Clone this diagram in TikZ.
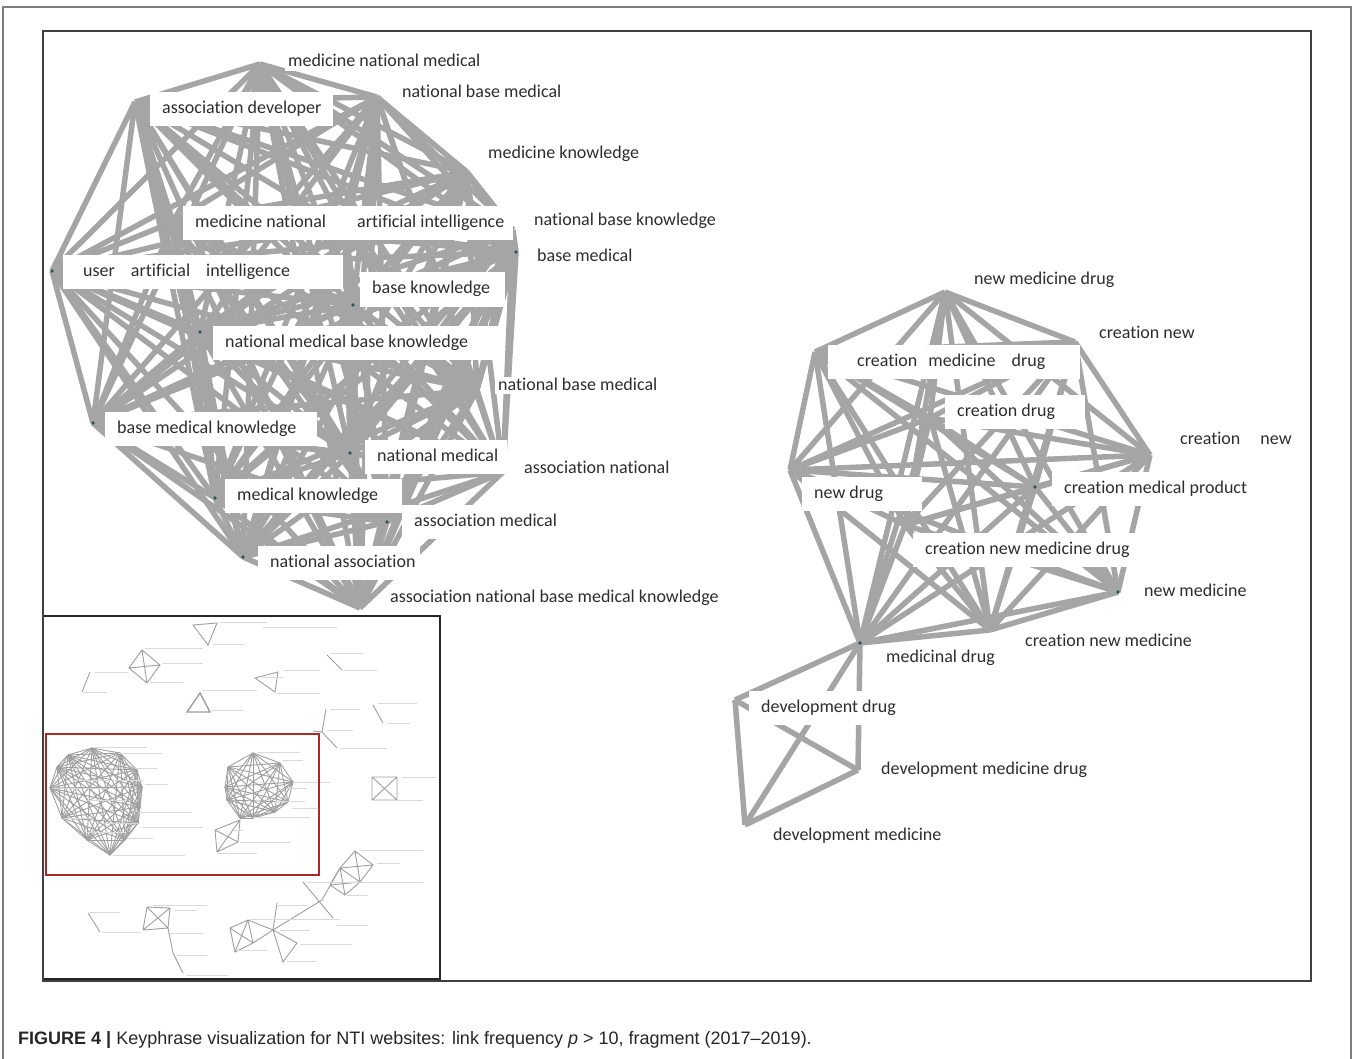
\documentclass[tikz,border=0pt]{standalone}
\usepackage{fontspec}
\setmainfont{Carlito}[Ligatures=NoCommon]
\newfontfamily\capfont{Liberation Sans}[Ligatures=TeX]
\definecolor{edgegray}{RGB}{165,165,165}
\definecolor{labelink}{RGB}{45,45,45}
\definecolor{framegray}{RGB}{125,125,125}
\definecolor{hubdot}{RGB}{40,90,85}
\definecolor{insetred}{RGB}{170,40,40}
\newcommand{\padtag}[2]{\makebox[#1pt][l]{#2}}
\begin{document}
\begin{tikzpicture}[x=1pt,y=-1pt,
  edge/.style={edgegray,line width=5.5pt},
  tag/.style={anchor=west,fill=white,text=labelink,font=\fontsize{18}{20}\selectfont,inner xsep=3pt,inner ysep=0pt,text height=13pt,text depth=4pt,yshift=-1.5pt},
  tagbox/.style={tag,inner xsep=12pt,minimum height=34pt},
  mini/.style={gray!75,line width=0.9pt},
  minitext/.style={gray!30,line width=1pt}]
\useasboundingbox (0,0) rectangle (1357,1059);
\begin{scope}
  \coordinate (mnm) at (260,64);\coordinate (nbm) at (377,97);\coordinate (ad) at (135,102);\coordinate (mk) at (467,172);
  \coordinate (mn) at (173,222);\coordinate (ai) at (345,228);\coordinate (nbk) at (513,230);\coordinate (uai) at (52,271);
  \coordinate (bm) at (516,252);\coordinate (bk) at (353,305);\coordinate (nmbk) at (200,332);\coordinate (nbm2) at (477,390);
  \coordinate (bmk) at (93,423);\coordinate (nm) at (350,453);\coordinate (an) at (503,472);\coordinate (mkn) at (215,498);
  \coordinate (am) at (387,522);\coordinate (na) at (243,557);\coordinate (anbmk) at (360,608);
  \coordinate (nmd) at (945,292);\coordinate (cnw) at (1075,342);\coordinate (cmdr) at (815,352);\coordinate (cdr) at (930,418);
  \coordinate (cnw2) at (1150,455);\coordinate (ndr) at (790,470);\coordinate (cmp) at (1035,487);\coordinate (cnmd) at (905,525);
  \coordinate (nmed) at (1118,592);\coordinate (cnmed) at (990,630);\coordinate (mdr) at (860,643);
  \coordinate (ddr) at (735,700);\coordinate (dmdr) at (858,770);\coordinate (dmed) at (745,825);
\end{scope}
\def\leftnet{mnm,nbm,ad,mk,mn,ai,nbk,uai,bm,bk,nmbk,nbm2,bmk,nm,an,mkn,am,na,anbmk}
\def\rightnet{nmd,cnw,cmdr,cdr,cnw2,ndr,cmp,cnmd,nmed,cnmed,mdr}
\def\devnet{mdr,ddr,dmdr,dmed}
\begin{scope}
  \foreach \a [count=\i] in \leftnet {\foreach \b [count=\j] in \leftnet {\ifnum\j>\i \draw[edge] (\a) -- (\b);\fi}}
  \foreach \a [count=\i] in \rightnet {\foreach \b [count=\j] in \rightnet {\ifnum\j>\i \draw[edge] (\a) -- (\b);\fi}}
  \foreach \a [count=\i] in \devnet {\foreach \b [count=\j] in \devnet {\ifnum\j>\i \draw[edge] (\a) -- (\b);\fi}}
  \foreach \n in {bm,bk,nmbk,bmk,nm,mkn,am,na,mdr,nmed,cmp,uai} \fill[hubdot] (\n) circle (1.8);
\end{scope}
\begin{scope}
  \node[tag] (l-mnm) at (285,61) {medicine national medical};
  \node[tag] (l-nbm) at (399,92) {national base medical};
  \node[tagbox] (l-ad) at (150,108) {\padtag{159}{association developer}};
  \node[tag] (l-mk) at (485,153) {medicine knowledge};
  \node[tagbox] (l-mn) at (183,222) {\padtag{138}{medicine national}};
  \node[tagbox] (l-ai) at (345,222) {\padtag{144}{artificial intelligence}};
  \node[tag] (l-nbk) at (531,220) {national base knowledge};
  \node[tag] (l-bm) at (534,256) {base medical};
  \node[tagbox] (l-uai) at (63,271) {\padtag{256}{\hspace*{8pt}user\hspace{12pt} artificial\hspace{12pt} intelligence}};
  \node[tagbox] (l-bk) at (360,288) {\padtag{121}{base knowledge}};
  \node[tagbox] (l-nmbk) at (213,341) {\padtag{263}{national medical base knowledge}};
  \node[tag] (l-nbm2) at (495,384) {national base medical};
  \node[tagbox] (l-bmk) at (105,427) {\padtag{188}{base medical knowledge}};
  \node[tagbox] (l-nm) at (365,455) {\padtag{118}{national medical}};
  \node[tag] (l-an) at (521,467) {association national};
  \node[tagbox] (l-mkn) at (225,494) {\padtag{153}{medical knowledge}};
  \node[tagbox] (l-am) at (402,520) {\padtag{139}{association medical}};
  \node[tagbox] (l-na) at (258,561) {\padtag{138}{national association}};
  \node[tag] (l-anbmk) at (387,596) {association national base medical knowledge};
\end{scope}
\begin{scope}
  \node[tag] (r-nmd) at (971,278) {new medicine drug};
  \node[tag] (r-cn) at (1096,332) {creation new};
  \node[tagbox] (r-cmd) at (828,360) {\padtag{228}{\hspace*{17pt}creation\hspace{7pt} medicine\hspace{12pt} drug}};
  \node[tagbox] (r-cd) at (945,410) {\padtag{116}{creation drug}};
  \node[tag] (r-cn2) at (1177,438) {creation\hspace{16pt} new};
  \node[tagbox] (r-nd) at (802,492) {\padtag{96}{new drug}};
  \node[tagbox] (r-cmp) at (1052,487) {\padtag{186}{creation medical product}};
  \node[tagbox] (r-cnmd) at (913,548) {\padtag{203}{creation new medicine drug}};
  \node[tag] (r-nm) at (1141,590) {new medicine};
  \node[tag] (r-cnm) at (1022,640) {creation new medicine};
  \node[tag] (r-md) at (883,656) {medicinal drug};
  \node[tagbox] (r-dd) at (749,706) {\padtag{127}{development drug}};
  \node[tag] (r-dmd) at (878,768) {development medicine drug};
  \node[tag] (r-dm) at (770,834) {development medicine};
\end{scope}
\begin{scope}
  \draw[black!85,line width=2pt,fill=white] (43,616) rectangle (440,979);
  \foreach \x/\y [count=\k] in {68/755,92/748,120/753,137/770,142/787,140/807,138/823,125/840,110/855,87/840,62/818,50/788,57/767} \coordinate (ml\k) at (\x,\y);
  \foreach \i in {1,...,13} \foreach \j in {\i,...,13} \draw[mini] (ml\i) -- (ml\j);
  \foreach \x/\y [count=\k] in {228/767,253/753,280/763,293/782,288/802,275/812,253/818,240/818,227/800,225/787} \coordinate (mr\k) at (\x,\y);
  \foreach \i in {1,...,10} \foreach \j in {\i,...,10} \draw[mini] (mr\i) -- (mr\j);
  \draw[mini] (193,625) -- (217,623) -- (208,645) -- cycle;
  \draw[mini] (142,650) -- (160,665) -- (147,683) -- (129,668) -- cycle (142,650) -- (147,683) (160,665) -- (129,668);
  \draw[mini] (90,672) -- (82,692);\draw[mini] (327,655) -- (342,670);\draw[mini] (373,705) -- (383,723);
  \draw[mini] (255,678) -- (278,672) -- (275,692) -- cycle;
  \draw[mini,line width=1.4pt] (187,712) -- (200,693) -- (210,712) -- cycle;
  \draw[mini] (326,709) -- (322,732) -- (337,748) (322,732) -- (313,731);
  \draw[mini] (372,777) rectangle (397,800) (372,777) -- (397,800) (397,777) -- (372,800);
  \draw[mini] (215,830) -- (240,820) -- (238,842) -- (217,852) -- cycle (215,830) -- (238,842) (240,820) -- (217,852);
  \draw[mini] (340,868) -- (355,851) -- (373,865) -- (360,882) -- cycle (340,868) -- (373,865) (355,851) -- (360,882);
  \draw[mini] (340,868) -- (345,895) -- (360,882) (330,885) -- (340,868) (330,885) -- (360,882) (330,885) -- (345,895);
  \draw[mini] (322,900) -- (273,930) (303,882) -- (333,918) (322,900) -- (340,868);
  \draw[mini] (273,930) -- (277,903) (273,930) -- (297,943) -- (283,962) -- cycle;
  \draw[mini] (230,928) -- (248,920) -- (253,943) -- (235,952) -- cycle (230,928) -- (253,943) (248,920) -- (235,952) (248,920) -- (273,930) -- (253,943);
  \draw[mini] (147,907) -- (170,908) -- (168,928) -- (143,930) -- cycle (147,907) -- (168,928) (170,908) -- (143,930) (168,928) -- (173,953) -- (183,973);
  \draw[mini] (88,913) -- (100,932);
  \foreach \x/\y/\w in {220/622/47,263/627/74,213/644/32,145/648/58,163/663/40,150/682/33,95/672/33,83/692/24,283/670/37,263/677/20,277/693/43,330/653/33,343/670/34,203/690/54,212/710/31,378/703/39,387/723/23,330/709/30,327/730/26,340/748/47,402/777/35,398/800/25,
    95/747/52,118/753/44,135/768/22,77/780/66,145/784/23,52/788/55,87/800/40,138/812/54,63/818/30,102/823/38,142/827/61,87/832/38,127/838/26,113/855/72,
    258/752/42,282/760/21,293/782/37,287/788/20,275/801/30,292/808/25,253/817/57,233/830/10,240/842/50,218/853/39,
    360/850/63,377/863/23,307/882/116,347/895/21,278/905/29,250/919/90,337/925/31,280/930/30,237/950/30,300/944/52,287/961/30,
    153/905/54,175/910/22,90/912/30,102/932/38,170/933/33,177/955/30,187/975/41} \draw[minitext] (\x,\y) -- ++(\w,0);
  \draw[insetred,line width=1.5pt] (46,734) rectangle (319,875);
\end{scope}
\draw[framegray,line width=2pt] (3,1059) -- (3,7) -- (1351,7) -- (1351,1059);
\draw[black!75,line width=2.5pt] (43,31) rectangle (1311,981);
\node[anchor=base west,inner sep=0pt,text=black!85,font=\capfont\fontsize{18}{20}\selectfont] (caption) at (18,1044) {\textbf{FIGURE 4 |} Keyphrase visualization for NTI websites: link frequency \textit{p} > 10, fragment (2017–2019).};
\end{tikzpicture}
\end{document}
